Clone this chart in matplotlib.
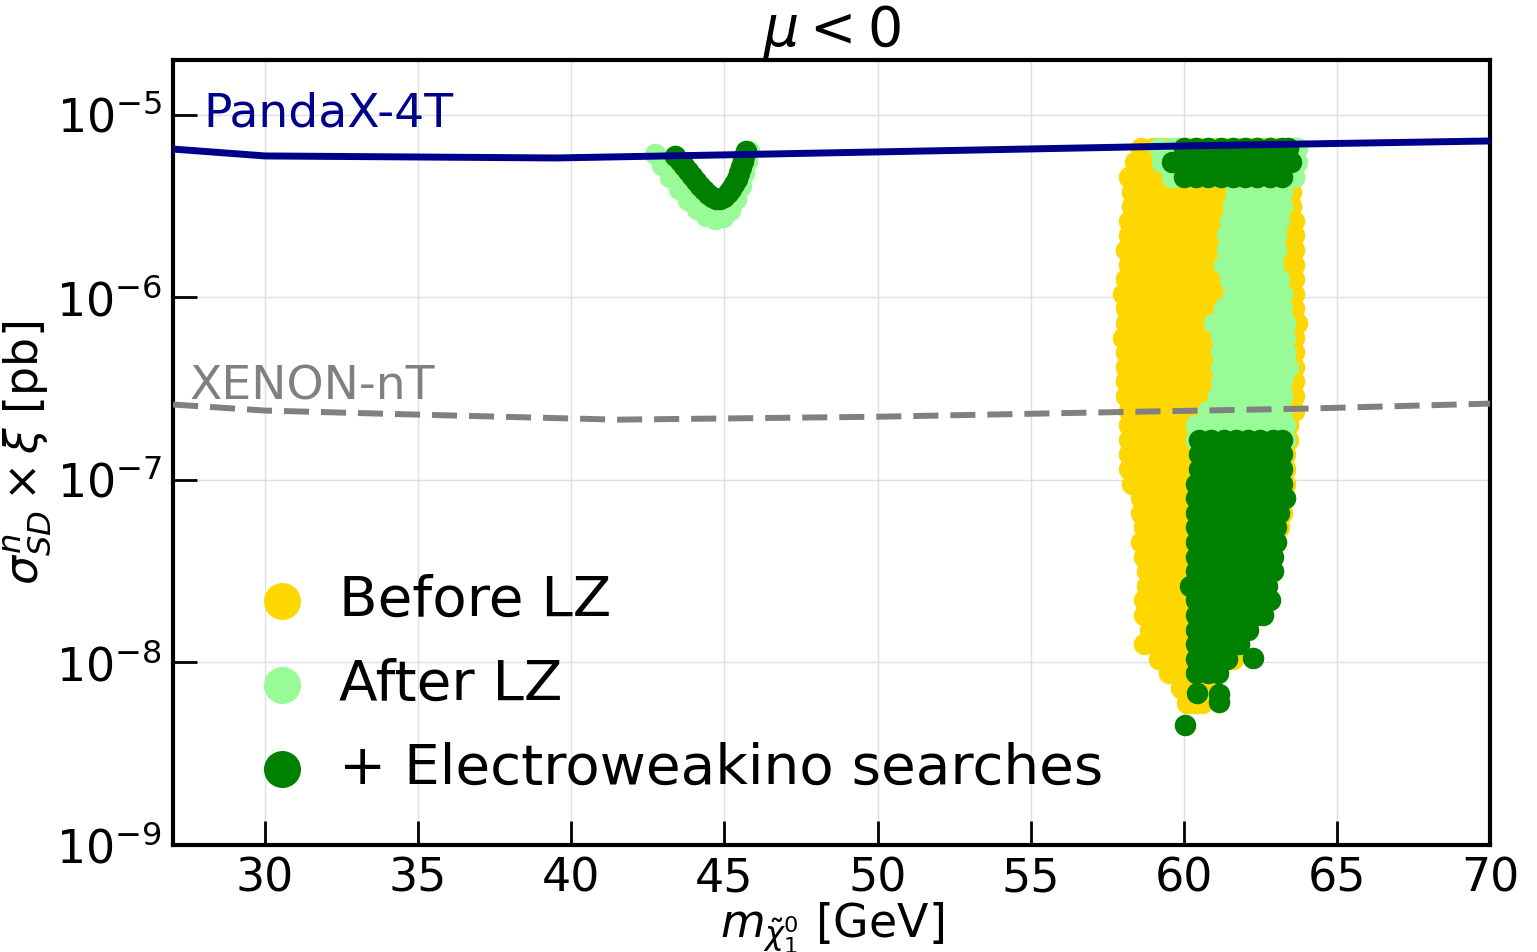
import matplotlib
matplotlib.use("Agg")
import matplotlib.pyplot as plt
from matplotlib.ticker import MultipleLocator, NullLocator

# row levels of the scan (sigma x xi, pb)
row_y = [6.61e-6, 5.50e-6, 4.57e-6, 3.80e-6, 3.16e-6, 2.63e-6, 2.19e-6, 1.82e-6,
         1.51e-6, 1.26e-6, 1.05e-6, 8.71e-7, 7.24e-7, 6.03e-7, 5.01e-7, 4.17e-7,
         3.47e-7, 2.88e-7, 2.40e-7, 2.00e-7, 1.66e-7, 1.38e-7, 1.15e-7, 9.55e-8,
         7.94e-8, 6.61e-8, 5.50e-8, 4.57e-8, 3.80e-8, 3.16e-8, 2.63e-8, 2.19e-8,
         1.82e-8, 1.51e-8, 1.26e-8, 1.05e-8, 8.71e-9, 7.24e-9, 6.03e-9]

# Before LZ: neutralino masses per row
before_x = [
    [58.6, 59.0, 59.4, 59.8, 60.2, 60.6, 61.0, 61.4, 61.8, 62.2, 62.6, 63.0, 63.4, 63.6],
    [58.4, 58.8, 59.2, 59.6, 60.0, 60.4, 60.8, 61.2, 61.6, 62.0, 62.4, 62.8, 63.2, 63.6],
    [58.2, 58.6, 59.0, 59.4, 59.8, 60.2, 60.6, 61.0, 61.4, 61.8, 62.2, 62.6, 63.0, 63.4, 63.6],
    [58.3, 58.7, 59.1, 59.5, 59.9, 60.3, 60.7, 61.1, 61.5, 61.9, 62.3, 62.7, 63.1, 63.5],
    [58.3, 58.7, 59.1, 59.5, 59.9, 60.3, 60.7, 61.1, 61.5, 61.9, 62.3, 62.7, 63.1, 63.5],
    [58.2, 58.6, 59.0, 59.4, 59.8, 60.2, 60.6, 61.0, 61.4, 61.8, 62.2, 62.6, 63.0, 63.4, 63.6],
    [58.2, 58.6, 59.0, 59.4, 59.8, 60.2, 60.6, 61.0, 61.4, 61.8, 62.2, 62.6, 63.0, 63.4, 63.6],
    [58.1, 58.5, 58.9, 59.3, 59.7, 60.1, 60.5, 60.9, 61.3, 61.7, 62.1, 62.5, 62.9, 63.3, 63.6],
    [58.2, 58.6, 59.0, 59.4, 59.8, 60.2, 60.6, 61.0, 61.4, 61.8, 62.2, 62.6, 63.0, 63.4, 63.6],
    [58.1, 58.5, 58.9, 59.3, 59.7, 60.1, 60.5, 60.9, 61.3, 61.7, 62.1, 62.5, 62.9, 63.3, 63.6],
    [58.0, 58.4, 58.8, 59.2, 59.6, 60.0, 60.4, 60.8, 61.2, 61.6, 62.0, 62.4, 62.8, 63.2, 63.6],
    [58.1, 58.5, 58.9, 59.3, 59.7, 60.1, 60.5, 60.9, 61.3, 61.7, 62.1, 62.5, 62.9, 63.3, 63.6],
    [58.1, 58.5, 58.9, 59.3, 59.7, 60.1, 60.5, 60.9, 61.3, 61.7, 62.1, 62.5, 62.9, 63.3, 63.7],
    [58.0, 58.4, 58.8, 59.2, 59.6, 60.0, 60.4, 60.8, 61.2, 61.6, 62.0, 62.4, 62.8, 63.2, 63.6],
    [58.1, 58.5, 58.9, 59.3, 59.7, 60.1, 60.5, 60.9, 61.3, 61.7, 62.1, 62.5, 62.9, 63.3, 63.6],
    [58.1, 58.5, 58.9, 59.3, 59.7, 60.1, 60.5, 60.9, 61.3, 61.7, 62.1, 62.5, 62.9, 63.3, 63.6],
    [58.1, 58.5, 58.9, 59.3, 59.7, 60.1, 60.5, 60.9, 61.3, 61.7, 62.1, 62.5, 62.9, 63.3, 63.6],
    [58.1, 58.5, 58.9, 59.3, 59.7, 60.1, 60.5, 60.9, 61.3, 61.7, 62.1, 62.5, 62.9, 63.3, 63.6],
    [58.2, 58.6, 59.0, 59.4, 59.8, 60.2, 60.6, 61.0, 61.4, 61.8, 62.2, 62.6, 63.0, 63.4, 63.6],
    [58.2, 58.6, 59.0, 59.4, 59.8, 60.2, 60.6, 61.0, 61.4, 61.8, 62.2, 62.6, 63.0, 63.4],
    [58.2, 58.6, 59.0, 59.4, 59.8, 60.2, 60.6, 61.0, 61.4, 61.8, 62.2, 62.6, 63.0, 63.4],
    [58.2, 58.6, 59.0, 59.4, 59.8, 60.2, 60.6, 61.0, 61.4, 61.8, 62.2, 62.6, 63.0, 63.3],
    [58.2, 58.6, 59.0, 59.4, 59.8, 60.2, 60.6, 61.0, 61.4, 61.8, 62.2, 62.6, 63.0, 63.3],
    [58.3, 58.7, 59.1, 59.5, 59.9, 60.3, 60.7, 61.1, 61.5, 61.9, 62.3, 62.7, 63.1, 63.3],
    [58.6, 59.0, 59.4, 59.8, 60.2, 60.6, 61.0, 61.4, 61.8, 62.2, 62.6, 63.0, 63.3],
    [58.6, 59.0, 59.4, 59.8, 60.2, 60.6, 61.0, 61.4, 61.8, 62.2, 62.6, 63.0, 63.2],
    [58.7, 59.1, 59.5, 59.9, 60.3, 60.7, 61.1, 61.5, 61.9, 62.3, 62.7, 63.1],
    [58.6, 59.0, 59.4, 59.8, 60.2, 60.6, 61.0, 61.4, 61.8, 62.2, 62.6, 63.0],
    [58.7, 59.1, 59.5, 59.9, 60.3, 60.7, 61.1, 61.5, 61.9, 62.3, 62.6],
    [58.8, 59.2, 59.6, 60.0, 60.4, 60.8, 61.2, 61.6, 62.0, 62.4],
    [58.8, 59.2, 59.6, 60.0, 60.4, 60.8, 61.2, 61.6, 62.0, 62.4],
    [58.7, 59.1, 59.5, 59.9, 60.3, 60.7, 61.1, 61.5, 61.9, 62.3],
    [58.7, 59.1, 59.5, 59.9, 60.3, 60.7, 61.1, 61.5, 61.9, 62.2],
    [58.9, 59.3, 59.7, 60.1, 60.5, 60.9, 61.3, 61.7, 62.0],
    [58.7, 59.1, 59.5, 59.9, 60.3, 60.7, 61.1, 61.5, 61.8],
    [59.2, 59.6, 60.0, 60.4, 60.8, 61.2, 61.6],
    [59.5, 59.9, 60.3, 60.7, 61.1],
    [59.9, 60.3, 60.7, 60.9],
    [60.1, 60.4, 60.6],
]

# After LZ: rows 0..20 of row_y
after_x = [
    [59.2, 59.6, 60.0, 60.4, 60.8, 61.2, 61.6, 62.0, 62.4, 62.8, 63.2, 63.6, 63.7],
    [59.3, 59.7, 60.1, 60.5, 60.9, 61.3, 61.7, 62.1, 62.5, 62.9, 63.3, 63.7],
    [59.6, 60.0, 60.4, 60.8, 61.2, 61.6, 62.0, 62.4, 62.8, 63.2, 63.6],
    [61.7, 62.1, 62.5, 62.9, 63.2],
    [61.6, 62.0, 62.4, 62.8, 63.2],
    [61.5, 61.9, 62.3, 62.7, 63.1],
    [61.4, 61.8, 62.2, 62.6, 63.0],
    [61.4, 61.8, 62.2, 62.6, 63.0],
    [61.3, 61.7, 62.1, 62.5, 62.9],
    [61.5, 61.9, 62.3, 62.7, 63.1],
    [61.6, 62.0, 62.4, 62.8, 63.2],
    [61.3, 61.7, 62.1, 62.5, 62.9, 63.2],
    [61.0, 61.4, 61.8, 62.2, 62.6, 63.0, 63.3],
    [61.2, 61.6, 62.0, 62.4, 62.8, 63.3],
    [61.2, 61.6, 62.0, 62.4, 62.8, 63.3],
    [61.2, 61.6, 62.0, 62.4, 62.8, 63.2, 63.4],
    [61.2, 61.6, 62.0, 62.4, 62.8, 63.2],
    [61.1, 61.5, 61.9, 62.3, 62.7, 63.2],
    [60.8, 61.2, 61.6, 62.0, 62.4, 62.8, 63.2],
    [60.4, 60.8, 61.2, 61.6, 62.0, 62.4, 62.8, 63.3],
    [60.4, 60.8, 61.2, 61.6, 62.0, 62.4, 62.8, 63.3],
]

# + Electroweakino searches: top band (rows 0..2) and lower cloud (rows 20..36)
ewk_top_x = [
    [60.0, 60.4, 60.8, 61.2, 61.6, 62.0, 62.4, 62.8, 63.2, 63.4],
    [59.6, 60.0, 60.4, 60.8, 61.2, 61.6, 62.0, 62.4, 62.8, 63.2, 63.5],
    [60.0, 60.4, 60.8, 61.2, 61.6, 62.0, 62.4, 62.8, 63.2],
]
ewk_low_x = [
    [60.5, 60.9, 61.3, 61.7, 62.1, 62.5, 62.9, 63.2],
    [60.5, 60.9, 61.3, 61.7, 62.1, 62.5, 62.9, 63.2],
    [60.5, 60.9, 61.3, 61.7, 62.1, 62.5, 62.9, 63.2],
    [60.4, 60.8, 61.2, 61.6, 62.0, 62.4, 62.8, 63.2],
    [60.4, 60.8, 61.2, 61.6, 62.0, 62.4, 62.8, 63.3],
    [60.4, 60.8, 61.2, 61.6, 62.0, 62.4, 62.8, 63.1],
    [60.4, 60.8, 61.2, 61.6, 62.0, 62.4, 62.8, 63.0],
    [60.4, 60.8, 61.2, 61.6, 62.0, 62.4, 62.8, 63.0],
    [60.4, 60.8, 61.2, 61.6, 62.0, 62.4, 62.9],
    [60.4, 60.8, 61.2, 61.6, 62.0, 62.4, 62.9],
    [60.2, 60.6, 61.0, 61.4, 61.8, 62.2, 62.7],
    [60.4, 60.8, 61.2, 61.6, 62.0, 62.4, 62.8],
    [60.4, 60.8, 61.2, 61.6, 62.0, 62.4, 62.6],
    [60.4, 60.8, 61.2, 61.6, 62.1],
    [60.4, 60.8, 61.2, 61.6, 61.8],
    [60.4, 60.8, 61.2, 61.4],
    [60.4, 60.8, 61.1],
]
ewk_dots_x = [62.26, 60.43, 61.15, 61.15, 60.04]
ewk_dots_y = [1.06e-8, 6.84e-9, 6.75e-9, 6.10e-9, 4.57e-9]

# V-shaped branch near 45 GeV
v_light_x = [42.74, 42.96, 43.23, 43.52, 43.81, 44.11, 44.40, 44.69, 44.95, 45.18,
             45.38, 45.55, 45.64, 45.74, 45.81]
v_light_y = [6.11e-6, 5.32e-6, 4.57e-6, 3.93e-6, 3.42e-6, 3.05e-6, 2.79e-6, 2.69e-6,
             2.76e-6, 3.01e-6, 3.46e-6, 4.07e-6, 4.81e-6, 5.60e-6, 6.35e-6]
v_dark_x = [43.39, 43.55, 43.68, 43.81, 43.94, 44.08, 44.21, 44.34, 44.47, 44.60,
            44.73, 44.86, 44.99, 45.11, 45.22, 45.32, 45.42, 45.49, 45.55, 45.60,
            45.64, 45.71]
v_dark_y = [5.96e-6, 5.60e-6, 5.25e-6, 4.93e-6, 4.62e-6, 4.33e-6, 4.07e-6, 3.87e-6,
            3.69e-6, 3.56e-6, 3.46e-6, 3.48e-6, 3.55e-6, 3.72e-6, 3.93e-6, 4.18e-6,
            4.46e-6, 4.80e-6, 5.19e-6, 5.56e-6, 5.96e-6, 6.35e-6]

# experimental limits
pandax_x = [27, 30, 39.5, 45, 50, 60, 70]
pandax_y = [6.50e-6, 5.96e-6, 5.81e-6, 6.04e-6, 6.27e-6, 6.76e-6, 7.20e-6]
xenon_x = [27, 30, 35, 41.5, 50, 57, 64, 70]
xenon_y = [2.59e-7, 2.40e-7, 2.28e-7, 2.14e-7, 2.22e-7, 2.34e-7, 2.46e-7, 2.62e-7]


def flatten(ys, rows):
    xs_out, ys_out = [], []
    for y, row in zip(ys, rows):
        xs_out += row
        ys_out += [y] * len(row)
    return xs_out, ys_out


bx, by = flatten(row_y, before_x)
ax_, ay_ = flatten(row_y[:len(after_x)], after_x)
ax_ += v_light_x + v_dark_x
ay_ += v_light_y + v_dark_y
tx, ty = flatten(row_y[:3], ewk_top_x)
lx, ly = flatten(row_y[20:20 + len(ewk_low_x)], ewk_low_x)
ex = tx + lx + ewk_dots_x + v_dark_x
ey = ty + ly + ewk_dots_y + v_dark_y

fig = plt.figure(figsize=(15.37, 9.52), dpi=100)
ax = fig.add_axes([0.1126, 0.1124, 0.8569, 0.8246])

s = 240
ax.scatter(bx, by, s=s, color="gold", linewidths=0, zorder=2, label="Before LZ")
ax.scatter(ax_, ay_, s=s, color="palegreen", linewidths=0, zorder=3, label="After LZ")
ax.scatter(ex, ey, s=s, color="green", linewidths=0, zorder=4,
           label="+ Electroweakino searches")

ax.plot(pandax_x, pandax_y, color="darkblue", lw=5, zorder=5)
ax.plot(xenon_x, xenon_y, color="gray", lw=4.3, dashes=(4.2, 2.0), zorder=5)
ax.text(28.0, 8.6e-6, "PandaX-4T", color="darkblue", fontsize=34, va="baseline")
ax.text(27.55, 2.76e-7, "XENON-nT", color="gray", fontsize=34, va="baseline")

ax.set_yscale("log")
ax.set_xlim(27, 70)
ax.set_ylim(1e-9, 2e-5)
ax.xaxis.set_major_locator(MultipleLocator(5))
ax.yaxis.set_minor_locator(NullLocator())
ax.tick_params(which="major", direction="in", length=17, width=2, labelsize=33, pad=8)
ax.grid(True, color="lightgray", alpha=0.7, lw=1)
for sp in ax.spines.values():
    sp.set_linewidth(3)

ax.set_title(r"$\mu < 0$", fontsize=40, pad=8)
ax.set_xlabel(r"$m_{\tilde{\chi}_1^0}$ [GeV]", fontsize=33, labelpad=0)
ax.set_ylabel(r"$\sigma^n_{SD} \times \xi$ [pb]", fontsize=33, labelpad=2)

ax.legend(loc="lower left", bbox_to_anchor=(0.0615, 0.0624), borderaxespad=0,
          borderpad=0, frameon=False, fontsize=40.6, markerscale=1.72,
          handlelength=1.0, handletextpad=0.5, labelspacing=0.53)

fig.savefig("out.png", dpi=100)
